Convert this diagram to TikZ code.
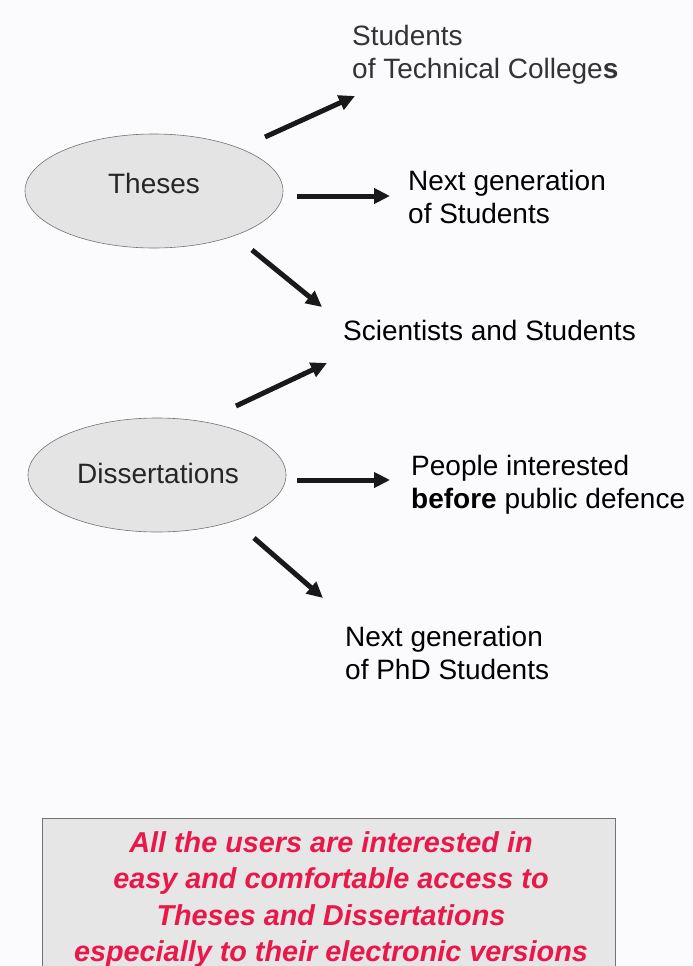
\documentclass[tikz,border=0pt]{standalone}
\usepackage{fontspec}
\setmainfont{Liberation Sans}
\usetikzlibrary{arrows.meta,shapes.geometric}
\definecolor{userred}{HTML}{E8194A}
\definecolor{ovalgrey}{HTML}{E4E4E4}
\definecolor{boxgrey}{HTML}{E6E6E6}
\definecolor{paper}{HTML}{FBFBFD}

\begin{document}
\begin{tikzpicture}[x=1pt,y=-1pt,line cap=butt,
  oval/.style={ellipse,draw=black!55,fill=ovalgrey,line width=.6pt,
    minimum width=258pt,minimum height=114pt,inner sep=0pt},
  lbl/.style={anchor=north west,align=left,inner sep=0pt,
    font=\fontsize{28}{33}\selectfont},
  flow/.style={-{Triangle[length=16pt,width=15pt]},line width=5pt,black!90}]
  \fill[paper] (0,0) rectangle (693,966);
  \useasboundingbox (0,0) rectangle (693,966);

  % the two kinds of work
  \node[oval] (th) at (154,191) {};
  \node[font=\fontsize{28}{33}\selectfont,black!85] (thtxt) at (154,183) {Theses};
  \node[oval] (dis) at (157,475) {};
  \node[font=\fontsize{28}{33}\selectfont,black!85] (distxt) at (158,473) {Dissertations};

  % who reads them
  \node[lbl,black!80] (techlbl) at (352,25) {Students\\of Technical College\textbf{s}};
  \node[lbl] (nextlbl) at (408,170) {Next generation\\of Students};
  \node[lbl] (scilbl) at (343,320) {Scientists and Students};
  \node[lbl] (peoplbl) at (411,455) {People interested\\\textbf{before} public defence};
  \node[lbl] (phdlbl) at (345,626) {Next generation\\of PhD Students};

  \coordinate (a1) at (265,137); \coordinate (b1) at (355,96);
  \coordinate (a2) at (297,196); \coordinate (b2) at (390,196);
  \coordinate (a3) at (252,250); \coordinate (b3) at (322,307);
  \coordinate (a4) at (236,406); \coordinate (b4) at (327,363);
  \coordinate (a5) at (297,480); \coordinate (b5) at (390,480);
  \coordinate (a6) at (254,538); \coordinate (b6) at (323,598);
  \foreach \i in {1,...,6}
    \draw[flow] (a\i) -- (b\i);

  % note at the foot
  \draw[draw=black!55,fill=boxgrey,line width=1pt] (42,818) rectangle (615,980);
  \node[anchor=north,align=center,inner sep=0pt,text=userred,
    font=\fontsize{28.8}{36.5}\selectfont\bfseries\itshape] (note) at (331,831)
    {All the users are interested in\\easy and comfortable access to\\
     Theses and Dissertations\\especially to their electronic versions};
\end{tikzpicture}
\end{document}
